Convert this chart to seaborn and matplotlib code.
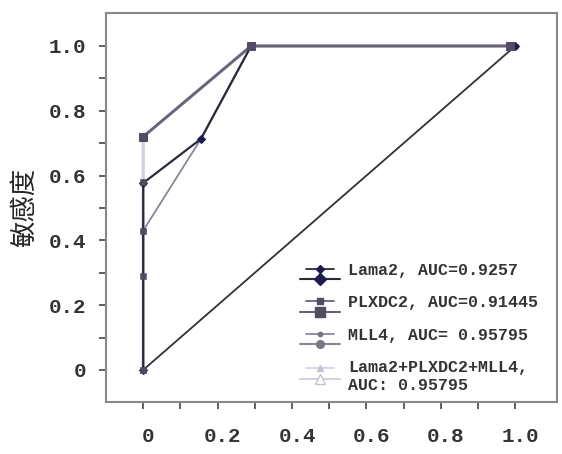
import numpy as np
import pandas as pd
import matplotlib
matplotlib.use("Agg")
import matplotlib.pyplot as plt
import seaborn as sns
from matplotlib.lines import Line2D
from matplotlib.legend_handler import HandlerBase
from matplotlib.ticker import FixedLocator
from matplotlib.transforms import ScaledTranslation

# ---- data ----
series_names = ["Lama2, AUC=0.9257", "PLXDC2, AUC=0.91445", "MLL4, AUC= 0.95795",
                "Lama2+PLXDC2+MLL4,\nAUC: 0.95795"]
lama2_fpr = [0.0, 0.0, 0.155, 0.29, 1.0]
lama2_tpr = [0.0, 0.577, 0.713, 1.0, 1.0]
plxdc2_fpr = [0.0, 0.29, 0.985]
plxdc2_tpr = [0.72, 1.0, 1.0]
plxdc2_extra_fpr = [0.0, 0.0, 0.0, 0.0]
plxdc2_extra_tpr = [0.0, 0.29, 0.43, 0.58]
mll4_fpr = [0.0, 0.0, 0.155, 0.29, 1.0]
mll4_tpr = [0.0, 0.43, 0.713, 1.0, 1.0]
combo_fpr = [0.0, 0.0, 0.29, 1.0]
combo_tpr = [0.0, 0.72, 1.0, 1.0]
diag_fpr = [0.0, 1.0]
diag_tpr = [0.0, 1.0]
tick_vals = [0, 0.2, 0.4, 0.6, 0.8, 1.0]
minor_vals = [0.1, 0.3, 0.5, 0.7, 0.9]
tick_labels = ["0", "0.2", "0.4", "0.6", "0.8", "1.0"]
ylabel = "敏感度"

sns.set_theme(style="white")
plt.rcParams["font.family"] = ["Liberation Mono", "DejaVu Sans Mono"]

fig = plt.figure(figsize=(5.62, 4.54), dpi=100)
ax = fig.add_axes([0.1886, 0.1145, 0.8024, 0.857])

styles = [
    dict(color="#2a2a3a", mcolor="#1c1c4e", marker="D", ms=4.5, lw=1.6),
    dict(color="#6a6278", mcolor="#544b62", marker="s", ms=5.5, lw=2.0),
    dict(color="#8a8698", mcolor="#7a7688", marker="o", ms=4, lw=1.3),
    dict(color="#d2d2e2", mcolor="#c4c4d4", marker="^", ms=5, lw=2.4),
]
datas = [(lama2_fpr, lama2_tpr), (plxdc2_fpr, plxdc2_tpr),
         (mll4_fpr, mll4_tpr), (combo_fpr, combo_tpr)]

# diagonal
sns.lineplot(x=diag_fpr, y=diag_tpr, sort=False, estimator=None, color="#303038",
             lw=1.3, ax=ax, zorder=1)
zorders = {3: 2, 2: 3, 0: 4, 1: 5}
for i in [3, 2, 0, 1]:
    fx, fy = datas[i]
    st = styles[i]
    sns.lineplot(x=fx, y=fy, sort=False, estimator=None, color=st["color"], lw=st["lw"],
                 marker=st["marker"], markersize=st["ms"], markerfacecolor=st["mcolor"],
                 markeredgecolor=st["mcolor"], ax=ax, zorder=zorders[i])
sns.scatterplot(x=plxdc2_extra_fpr, y=plxdc2_extra_tpr, marker="s", s=22,
                color=styles[1]["mcolor"], edgecolor=styles[1]["mcolor"], ax=ax, zorder=6)

ax.set_xlim(-0.1, 1.112)
ax.set_ylim(-0.099, 1.102)

ax.xaxis.set_major_locator(FixedLocator(tick_vals))
ax.yaxis.set_major_locator(FixedLocator(tick_vals))
ax.xaxis.set_minor_locator(FixedLocator(minor_vals))
ax.yaxis.set_minor_locator(FixedLocator(minor_vals))
ax.set_xticklabels(tick_labels, fontsize=15, fontweight="bold", color="#333333")
ax.set_yticklabels(tick_labels, fontsize=15, fontweight="bold", color="#333333")
ax.tick_params(axis="both", which="both", direction="out", length=5, width=1.2,
               color="#444444", bottom=True, left=True)
ax.tick_params(axis="x", which="major", pad=13)
ax.tick_params(axis="y", which="major", pad=9)
shift = ScaledTranslation(5 / 100, 0, fig.dpi_scale_trans)
for lab in ax.get_xticklabels():
    lab.set_transform(lab.get_transform() + shift)
for s in ax.spines.values():
    s.set_color("#888888")
    s.set_linewidth(1.5)

ax.set_ylabel(ylabel, fontsize=19, family=["Noto Sans CJK SC", "DejaVu Sans"], labelpad=8)
ax.set_xlabel("")


class TwoLineHandler(HandlerBase):
    def create_artists(self, legend, orig_handle, xdescent, ydescent, width, height,
                       fontsize, trans):
        c = orig_handle.get_color()
        mc = orig_handle.get_markerfacecolor()
        m = orig_handle.get_marker()
        ms = orig_handle.get_markersize()
        yt = height * 0.5 - ydescent + getattr(orig_handle, "_row_shift", 0) * fontsize
        yb = yt - 0.62 * fontsize
        top = Line2D([width * 0.15, width * 0.85], [yt, yt], color=c, lw=1.3)
        topm = Line2D([width * 0.5], [yt], marker=m, color=mc, ms=ms * 0.8, lw=0)
        bot = Line2D([0, width], [yb, yb], color=c, lw=1.5)
        botm = Line2D([width * 0.5], [yb], marker=m, color=mc, ms=ms * 1.4, lw=0,
                      markerfacecolor=(mc if m != "^" else "white"))
        arts = [top, topm, bot, botm]
        for a in arts:
            a.set_transform(trans)
        return arts


handles = [Line2D([], [], color=st["color"], marker=st["marker"], ms=st["ms"],
                  markerfacecolor=st["mcolor"]) for st in styles]
for h, name in zip(handles, series_names):
    h._row_shift = 0.5 * name.count("\n")
leg = ax.legend(handles, series_names, handler_map={Line2D: TwoLineHandler()},
                loc="upper left", bbox_to_anchor=(0.415, 0.375), frameon=False,
                prop={"family": ["Liberation Mono"], "weight": "bold", "size": 12},
                handlelength=2.4, handleheight=0.7, handletextpad=0.5, labelspacing=1.05,
                borderaxespad=0.0)
for t in leg.get_texts():
    t.set_color("#333333")

fig.savefig("out.png", dpi=100)
